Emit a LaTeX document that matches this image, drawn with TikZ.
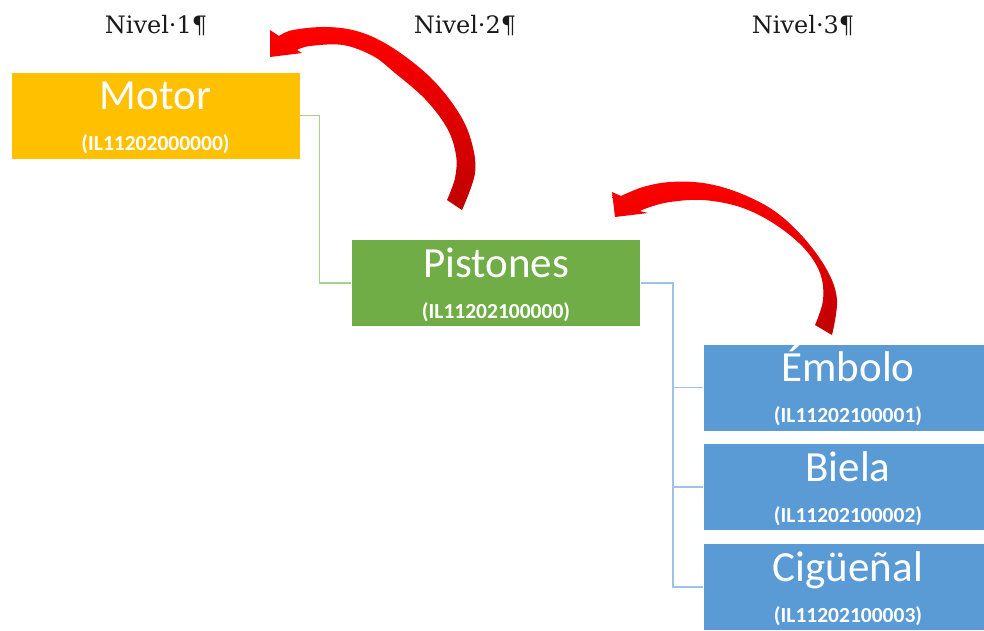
\documentclass[tikz,border=0pt]{standalone}
\usepackage{fontspec}
\setmainfont{DejaVu Serif}
\newfontfamily\boxfont{Carlito}
\definecolor{motorfill}{HTML}{FFC000}
\definecolor{pistonfill}{HTML}{70AD47}
\definecolor{partfill}{HTML}{5B9BD5}
\definecolor{greenline}{HTML}{A9D18E}
\definecolor{blueline}{HTML}{9DC3E6}
\definecolor{arrowlight}{HTML}{FF0000}
\definecolor{arrowdark}{HTML}{C00000}
\definecolor{headtext}{HTML}{1A1A1A}
\tikzset{
  itembox/.style={draw=white, line width=0.8pt, inner sep=0pt,
    minimum width=289pt, minimum height=87pt},
  titletext/.style={anchor=base, text=white, inner sep=0pt,
    font=\boxfont\fontsize{43}{43}\selectfont},
  codetext/.style={anchor=base, text=white, inner sep=0pt,
    font=\boxfont\bfseries\fontsize{21.5}{21.5}\selectfont},
  leveltext/.style={anchor=base, text=headtext, inner sep=0pt,
    font=\fontsize{24}{24}\selectfont},
  linkline/.style={line width=1.8pt},
  bigarrow/.style={top color=arrowlight, bottom color=arrowdark}
}
\begin{document}
\begin{tikzpicture}[x=1pt,y=-1pt]
\useasboundingbox (0,0) rectangle (984,630);

% level headings
\node[leveltext] (lvl1) at (156,33) {Nivel·1¶};
\node[leveltext] (lvl2) at (465,33) {Nivel·2¶};
\node[leveltext] (lvl3) at (803,33) {Nivel·3¶};

% boxes
\node[itembox, fill=motorfill] (motor) at (155.5,115.5) {};
\node[itembox, fill=pistonfill] (pistones) at (496,283) {};
\node[itembox, fill=partfill, minimum width=287pt] (embolo) at (846.5,387.5) {};
\node[itembox, fill=partfill, minimum width=287pt] (biela) at (846.5,487) {};
\node[itembox, fill=partfill, minimum width=287pt] (cig) at (846.5,587) {};

% box labels
\foreach \b/\t/\c/\dx in {motor/Motor/IL11202000000/0,
                          pistones/Pistones/IL11202100000/0,
                          embolo/Émbolo/IL11202100001/1.5,
                          biela/Biela/IL11202100002/1.5,
                          cig/Cigüeñal/IL11202100003/1.5}{
  \node[titletext] (\b-title) at ([xshift=\dx pt, yshift=-38pt]\b.north) {\t};
  \node[codetext] (\b-code) at ([xshift=\dx pt, yshift=-79pt]\b.north) {(\c)};
}

% hierarchy connectors
\draw[linkline, greenline] (motor.east) -- ([xshift=19pt]motor.east) |- (pistones.west);
\coordinate (bus) at ([xshift=32pt]pistones.east);
\draw[linkline, blueline] (pistones.east) -- (bus) |- (embolo.west);
\draw[linkline, blueline] (bus) |- (biela.west);
\draw[linkline, blueline] (bus) |- (cig.west);

% curved arrow from level 2 back to level 1
\shade[bigarrow] (270,30) -- (279,36)
  -- plot[smooth, tension=0.6] coordinates {(279,36) (293,30) (327,27) (360,32)
       (393,48) (430,77) (457,110) (471,140) (475,173) (462,210)}
  -- (447,200)
  -- plot[smooth, tension=0.6] coordinates {(447,200) (455,178) (456,155) (447,128)
       (425,99) (395,73) (373,56) (343,45) (310,46) (297,50)}
  -- (302,53) -- (270,57) -- cycle;

% curved arrow from level 3 back to level 2
\shade[bigarrow] (612,192) -- (621,196)
  -- plot[smooth, tension=0.6] coordinates {(621,196) (643,187) (670,182) (703,183)
       (737,192) (773,210) (803,237) (827,270) (837,300) (832,335)}
  -- (815,325)
  -- plot[smooth, tension=0.6] coordinates {(815,325) (823,300) (820,273) (803,247)
       (773,223) (740,207) (703,200) (670,202) (650,207) (640,211)}
  -- (648,213) -- (615,217) -- cycle;
\end{tikzpicture}
\end{document}
